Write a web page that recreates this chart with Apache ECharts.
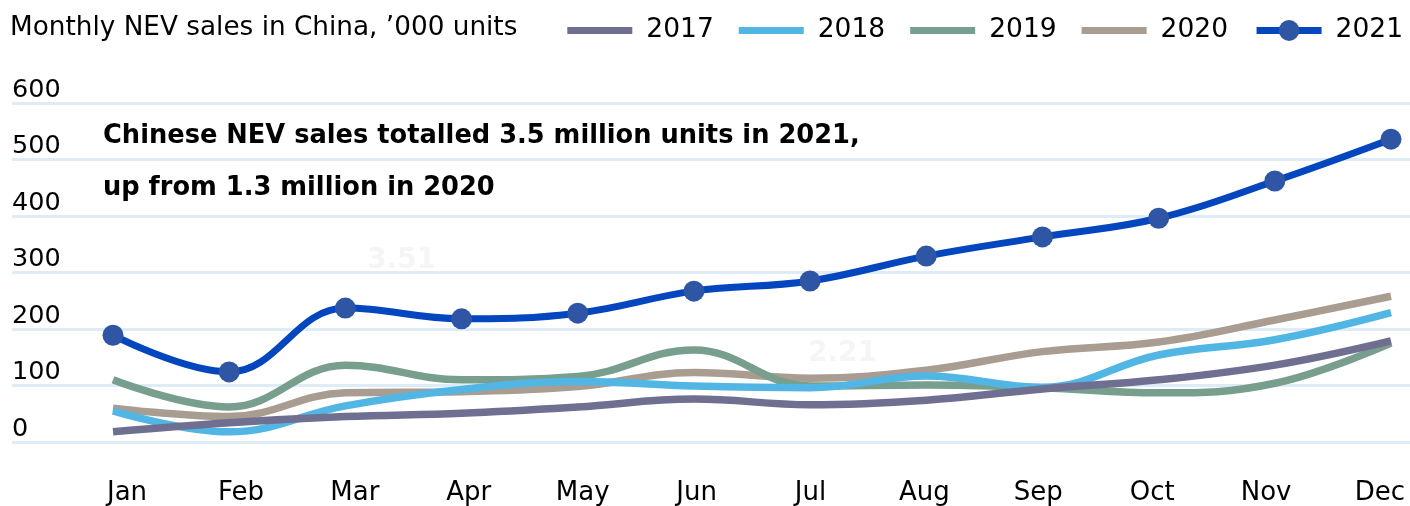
<!DOCTYPE html>
<html><head><meta charset="utf-8">
<script src="https://cdn.jsdelivr.net/npm/echarts@6/dist/echarts.min.js"></script>
<style>html,body{margin:0;padding:0;background:#fff}#c{width:1410px;height:506px}</style>
</head><body><div id="c"></div>
<script>
const months = ['Jan','Feb','Mar','Apr','May','Jun','Jul','Aug','Sep','Oct','Nov','Dec'];
const years = ['2017','2018','2019','2020','2021'];
const s2017 = [18, 34, 45, 51, 62, 76, 66, 74, 94, 110, 136, 179];
const s2018 = [55, 18, 64, 93, 107, 99, 96, 117, 97, 154, 181, 229];
const s2019 = [110, 62, 136, 110, 116, 163, 99, 101, 96, 87, 104, 175];
const s2020 = [60, 45, 87, 89, 98, 123, 113, 127, 160, 177, 216, 258];
const s2021 = [189, 124, 237, 218, 228, 267, 285, 329, 363, 396, 462, 536];
const yMin = 0, yMax = 600, yStep = 100;
const titleText = 'Monthly NEV sales in China, \u2019000 units';
const noteLines = ['Chinese NEV sales totalled 3.5 million units in 2021,', 'up from 1.3 million in 2020'];
const faintLabels = ['3.51', '2.21'];

const FONT = 'DejaVu Sans';
const chart = echarts.init(document.getElementById('c'), null, {renderer: 'canvas'});
const barIcon = 'path://M0,0 L65,0 L65,7 L0,7 Z';

function plainLine(name, data, color, z) {
  return {
    name, type: 'line', data, xAxisIndex: 1, yAxisIndex: 1, smooth: 0.4,
    symbol: 'none', showSymbol: false, z,
    lineStyle: {color, width: 7.5, cap: 'butt'}, itemStyle: {color},
    emphasis: {disabled: true}, silent: true, animation: false
  };
}

const option = {
  animation: false,
  backgroundColor: '#ffffff',
  title: {
    text: titleText, left: 10, top: 15, padding: 0,
    textStyle: {fontFamily: FONT, fontSize: 26.3, fontWeight: 'normal', color: '#000'}
  },
  legend: {
    data: [
      {name: years[0], icon: barIcon},
      {name: years[1], icon: barIcon},
      {name: years[2], icon: barIcon},
      {name: years[3], icon: barIcon},
      {name: years[4]}
    ],
    right: 2, top: 12, itemWidth: 65, itemHeight: 26, itemGap: 25,
    textStyle: {fontFamily: FONT, fontSize: 26.5, color: '#000', padding: [0, 0, 0, 9]},
    lineStyle: {width: 7}, selectedMode: false
  },
  grid: [
    {left: 12, right: 0, top: 103, bottom: 64, outerBoundsMode: 'none', containLabel: false},
    {left: 113, right: 19, top: 103, bottom: 64, outerBoundsMode: 'none', containLabel: false},
    {left: 127, right: 30, top: 103, bottom: 64, outerBoundsMode: 'none', containLabel: false}
  ],
  xAxis: [
    {gridIndex: 0, type: 'category', data: months, show: false},
    {gridIndex: 1, type: 'category', data: months, boundaryGap: false, show: false},
    {gridIndex: 2, type: 'category', data: months, boundaryGap: false,
     axisLine: {show: false}, axisTick: {show: false}, splitLine: {show: false},
     axisLabel: {margin: 38, fontFamily: FONT, fontSize: 26, color: '#000', interval: 0}}
  ],
  yAxis: [
    {gridIndex: 0, type: 'value', min: yMin, max: yMax, interval: yStep,
     axisLine: {show: false}, axisTick: {show: false},
     axisLabel: {inside: true, margin: 0, align: 'left', verticalAlign: 'bottom',
                 fontFamily: FONT, fontSize: 25.5, color: '#000'},
     splitLine: {show: true, lineStyle: {color: '#ddecf6', width: 3}}},
    {gridIndex: 1, type: 'value', min: yMin, max: yMax, show: false, splitLine: {show: false}},
    {gridIndex: 2, type: 'value', min: yMin, max: yMax, show: false, splitLine: {show: false}}
  ],
  graphic: [
    {type: 'text', left: 367, top: 247, z: 1, silent: true,
     style: {text: faintLabels[0], font: 'bold 28px ' + FONT, fill: '#f5f5f5'}},
    {type: 'text', left: 808, top: 340, z: 1, silent: true,
     style: {text: faintLabels[1], font: 'bold 28px ' + FONT, fill: '#f5f5f5'}},
    {type: 'text', x: 103, y: 136, z: 100, silent: true,
     style: {text: noteLines[0], font: 'bold 25.7px ' + FONT, fill: '#000', verticalAlign: 'middle'}},
    {type: 'text', x: 103, y: 188, z: 100, silent: true,
     style: {text: noteLines[1], font: 'bold 25.7px ' + FONT, fill: '#000', verticalAlign: 'middle'}}
  ],
  series: [
    plainLine('2017', s2017, '#6f6f91', 5),
    plainLine('2018', s2018, '#52b6e4', 4),
    plainLine('2019', s2019, '#789e8d', 3),
    plainLine('2020', s2020, '#a89d90', 2),
    {
      name: '2021', type: 'line', data: s2021, xAxisIndex: 1, yAxisIndex: 1, smooth: 0.4,
      symbol: 'circle', symbolSize: 21, showSymbol: true, z: 6,
      lineStyle: {color: '#0346be', width: 7}, itemStyle: {color: '#2f56a5'},
      emphasis: {disabled: true}, silent: true
    }
  ]
};
chart.setOption(option);
</script>
</body></html>
